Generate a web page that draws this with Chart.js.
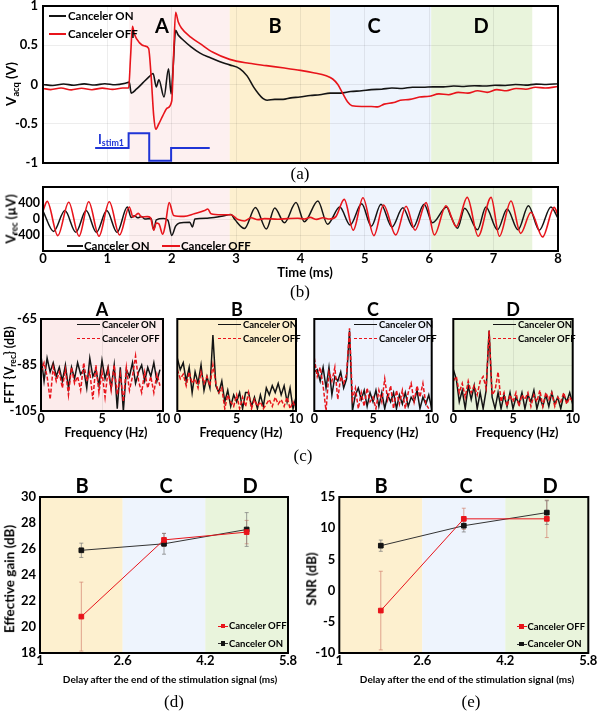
<!DOCTYPE html>
<html><head><meta charset="utf-8">
<script src="https://cdn.jsdelivr.net/npm/chart.js@4.4.0/dist/chart.umd.min.js"></script>
<style>
html,body{margin:0;padding:0;background:#fff;}
#root{position:relative;width:600px;height:711px;overflow:hidden;font-family:Lato,'Open Sans',sans-serif;}
canvas{position:absolute;}
.t{position:absolute;white-space:nowrap;transform:translate(-50%,-50%);font-weight:bold;color:#000;line-height:1;}
.l{position:absolute;white-space:nowrap;transform:translateY(-50%);font-weight:bold;color:#000;line-height:1;}
.cap{font-family:'Liberation Serif',serif;font-weight:normal;}
sub{font-size:68%;vertical-align:-0.28em;line-height:0;}
</style></head><body><div id="root"></div>
<script>
// ---------------- DATA ----------------
const msTicks = [0,1,2,3,4,5,6,7,8];
const regionNames = ['A','B','C','D'];
const regionStart = [1.34, 2.9, 4.46, 6.03];
const regionEnd   = [2.9, 4.46, 6.03, 7.6];

// (a) acquired voltage (V) vs time (ms)
const aYTicks = [-1,-0.5,0,0.5,1];
const aOnT = [0,0.15,0.32,0.48,0.64,0.8,0.96,1.12,1.28,1.34,1.37,1.45,1.55,1.65,1.71,1.76,1.80,1.88,1.95,1.99,2.02,2.06,2.10,2.16,2.30,2.44,2.60,2.75,2.90,3.06,3.17,3.27,3.35,3.42,3.48,3.6,3.73,3.85,3.99,4.15,4.3,4.46,4.62,4.78,4.95,5.1,5.26,5.42,5.58,5.74,5.9,6.06,6.22,6.38,6.54,6.7,6.86,7.02,7.18,7.34,7.5,7.66,7.82,8.0];
const aOnV = [0,-0.012,0.006,-0.01,0.008,-0.006,0.01,-0.004,0.015,0.03,-0.11,-0.06,0.02,0.1,0.14,-0.03,0.06,-0.16,0.2,-0.12,0.2,0.69,0.63,0.58,0.48,0.40,0.34,0.29,0.25,0.2,0.11,-0.03,-0.12,-0.18,-0.2,-0.19,-0.19,-0.17,-0.16,-0.14,-0.13,-0.11,-0.11,-0.09,-0.08,-0.065,-0.06,-0.045,-0.05,-0.035,-0.035,-0.03,-0.03,-0.02,-0.025,-0.015,-0.02,-0.01,-0.012,0,-0.008,0.005,0,0.01];
const aOffT = [0,0.12,0.28,0.44,0.6,0.76,0.92,1.08,1.24,1.33,1.36,1.39,1.42,1.5,1.58,1.64,1.68,1.72,1.75,1.80,1.86,1.93,2.00,2.03,2.06,2.10,2.15,2.30,2.44,2.64,2.9,3.2,3.47,3.75,4.0,4.2,4.4,4.5,4.58,4.66,4.73,4.8,4.95,5.1,5.2,5.3,5.45,5.55,5.7,5.85,6.0,6.15,6.3,6.45,6.6,6.75,6.9,7.05,7.2,7.35,7.5,7.65,7.8,8.0];
const aOffV = [-0.05,-0.065,-0.045,-0.068,-0.048,-0.066,-0.046,-0.062,-0.045,-0.045,0.35,0.74,0.64,0.53,0.49,0.46,0.1,-0.4,-0.57,-0.5,-0.4,-0.3,-0.21,0.4,0.92,0.8,0.72,0.6,0.52,0.41,0.32,0.27,0.24,0.21,0.18,0.15,0.11,0.07,0,-0.12,-0.22,-0.27,-0.28,-0.28,-0.285,-0.25,-0.23,-0.2,-0.19,-0.16,-0.15,-0.12,-0.13,-0.1,-0.11,-0.08,-0.1,-0.065,-0.08,-0.05,-0.06,-0.035,-0.045,-0.025];
const stimT = [0.81,1.33,1.33,1.65,1.65,1.99,1.99,2.59];
const stimV = [-0.81,-0.81,-0.62,-0.62,-0.97,-0.97,-0.81,-0.81];

// (b) recorded voltage (uV) vs time (ms)
const bYTicks = [-400,0,400];
const bOnT = [0,0.165,0.34,0.51,0.67,0.83,0.99,1.15,1.31,1.37,1.42,1.47,1.53,1.58,1.68,1.72,1.76,1.87,1.94,2.00,2.06,2.12,2.28,2.32,2.36,2.55,2.75,2.92,2.98,3.13,3.30,3.47,3.60,3.75,3.93,4.06,4.27,4.42,4.61,4.77,4.95,5.10,5.25,5.42,5.59,5.75,5.92,6.05,6.27,6.34,6.44,6.55,6.75,6.88,7.06,7.21,7.38,7.54,7.71,7.89,8.0];
const bOnV = [200,-310,210,-330,210,-335,210,-335,300,40,80,30,60,0,10,-270,-20,10,-30,-410,-180,-100,-80,-200,0,20,60,110,-15,-235,290,-250,275,-95,410,-70,450,-130,300,-150,380,-180,370,-200,280,-210,370,-95,300,50,-230,270,-270,300,-270,250,-270,330,-280,300,20];
const bOffT = [0,0.065,0.23,0.40,0.56,0.71,0.87,1.03,1.19,1.34,1.40,1.48,1.53,1.62,1.67,1.72,1.76,1.80,1.86,1.90,1.96,2.03,2.19,2.35,2.51,2.56,2.61,2.77,2.92,3.03,3.13,3.23,3.34,3.44,3.65,3.80,3.96,4.06,4.15,4.25,4.35,4.45,4.55,4.68,4.82,4.97,5.14,5.29,5.48,5.64,5.78,5.95,6.08,6.26,6.42,6.59,6.76,6.96,7.09,7.27,7.42,7.58,7.76,7.94,8.0];
const bOffV = [200,440,-415,420,-430,430,-430,430,-400,300,50,140,50,60,30,-280,-100,-120,-380,-150,410,90,65,130,210,250,130,105,105,-15,-50,30,-15,10,-5,10,20,0,40,-10,30,0,60,490,-280,530,-415,350,-400,320,-280,410,-400,330,-190,540,-430,540,-430,450,-360,170,-450,290,100];

// (c) FFT (dB) vs frequency (Hz)
const freqHz = [0,0.25,0.5,0.75,1,1.25,1.5,1.75,2,2.25,2.5,2.75,3,3.25,3.5,3.75,4,4.25,4.5,4.75,5,5.25,5.5,5.75,6,6.25,6.5,6.75,7,7.25,7.5,7.75,8,8.25,8.5,8.75,9,9.25,9.5,9.75,10];
const fftXTicks = [0,5,10];
const fftYTicks = [-105,-85,-65];
const fftOnA  = [-81,-92,-82,-88,-84,-90,-86,-92,-85,-95,-86,-91,-84,-89,-87,-95,-82,-90,-87,-94,-83,-91,-86,-95,-85,-104,-86,-105,-87,-90,-84,-93,-88,-85,-92,-86,-90,-84,-92,-87,null];
const fftOffA = [-88,-84,-90,-100,-86,-92,-88,-95,-87,-98,-86,-93,-90,-96,-84,-92,-88,-100,-85,-97,-88,-99,-87,-96,-85,-98,-89,-101,-86,-96,-90,-81,-92,-97,-88,-95,-90,-97,-89,-94,null];
const fftOnB  = [-82,-87,-84,-92,-86,-97,-88,-93,-85,-96,-90,-95,-72,-94,-97,-92,-101,-96,-103,-98,-101,-97,-104,-97,-97,-103,-99,-104,-98,-103,-95,-98,-94,-97,-93,-98,-94,-101,-95,-104,-99];
const fftOffB = [-87,-91,-89,-94,-88,-93,-91,-95,-88,-93,-90,-94,-85,-93,-97,-95,-104,-98,-101,-103,-98,-104,-99,-103,-97,-104,-100,-103,-101,-104,-102,-100,-103,-99,-102,-100,-103,-99,-104,-101,-104];
const fftOnC  = [-88,-87,-92,-86,-95,-86,-98,-90,-92,-88,-95,-91,-70,-105,-98,-95,-100,-96,-103,-97,-101,-96,-103,-97,-104,-98,-101,-97,-104,-98,-102,-97,-103,-99,-101,-96,-104,-99,-102,-98,-104];
const fftOffC = [-82,-90,-86,-94,-105,-88,-92,-86,-100,-90,-93,-89,-69,-100,-95,-104,-97,-103,-95,-101,-99,-104,-96,-101,-91,-100,-94,-104,-96,-102,-96,-104,-97,-93,-101,-94,-99,-93,-102,-104,null];
const fftOnD  = [-87,-91,-101,-96,-104,-94,-100,-94,-104,-97,-104,-96,-70,-99,-104,-97,-104,-98,-103,-97,-104,-99,-102,-97,-104,-98,-101,-96,-104,-99,-103,-98,-103,-97,-102,-99,-104,-98,-101,-97,-102];
const fftOffD = [-92,-90,-97,-93,-99,-92,-97,-94,-98,-92,-90,-95,-70,-98,-96,-88,-101,-97,-103,-98,-101,-97,-103,-98,-100,-97,-103,-98,-101,-96,-103,-97,-100,-97,-103,-99,-101,-97,-102,-99,-101];

// (d),(e) vs delay after the end of the stimulation (ms)
const delayTicks = [1,2.6,4.2,5.8];
const delayRegionNames = ['B','C','D'];
const delayRegionStart = [1,2.6,4.2];
const delayRegionEnd = [2.6,4.2,5.8];
const delayMs = [1.8,3.4,5.0];
const gainTicks = [18,20,22,24,26,28,30];
const gainOff = [20.8,26.7,27.3];
const gainOffErr = [2.65,0.5,0.9];
const gainOn = [25.9,26.4,27.5];
const gainOnErr = [0.55,0.8,1.3];
const snrTicks = [-10,-5,0,5,10,15];
const snrOff = [-3.2,11.5,11.5];
const snrOffErr = [6.3,1.7,3.0];
const snrOn = [7.2,10.4,12.5];
const snrOnErr = [0.9,1.0,1.9];

// ---------------- STYLE ----------------
const RED = '#e8141b', BLACK = '#141414', BLUE = '#1f35d6';
const REG = ['#fdf0f0','#fdf0cf','#eef4fd','#e9f4dc'];
const REGC = ['#fcebeb','#fdefcc','#edf3fd','#e8f3da'];
const GRID = 'rgba(0,0,0,0.07)';
const FONT = "Lato, 'Open Sans', sans-serif";
Chart.defaults.font.family = FONT;
Chart.defaults.color = '#000';

const root = document.getElementById('root');
function makeCanvas(x,y,w,h){const c=document.createElement('canvas');c.width=w;c.height=h;c.style.left=x+'px';c.style.top=y+'px';c.style.width=w+'px';c.style.height=h+'px';root.appendChild(c);return c;}
function text(html,x,y,size,o={}){const d=document.createElement('div');d.className=o.left?'l':'t';if(o.cls)d.classList.add(o.cls);d.innerHTML=html;d.style.left=x+'px';d.style.top=y+'px';d.style.fontSize=size+'px';if(o.color)d.style.color=o.color;if(o.rot)d.style.transform='translate(-50%,-50%) rotate(-90deg)';root.appendChild(d);return d;}
function hline(x1,x2,y,color,w,dash){const d=document.createElement('div');d.style.position='absolute';d.style.left=x1+'px';d.style.top=(y-w/2)+'px';d.style.width=(x2-x1)+'px';d.style.height='0';d.style.borderTop=w+'px '+(dash?'dashed':'solid')+' '+color;root.appendChild(d);}
function square(x,y,s,color){const d=document.createElement('div');d.style.position='absolute';d.style.left=(x-s/2)+'px';d.style.top=(y-s/2)+'px';d.style.width=s+'px';d.style.height=s+'px';d.style.background=color;root.appendChild(d);}
const zip=(xs,ys)=>xs.map((x,i)=>({x:x,y:ys[i]}));
const fixed=(size,isX)=>s=>{if(isX)s.height=size;else s.width=size;s.paddingLeft=0;s.paddingRight=0;s.paddingTop=0;s.paddingBottom=0;};
const setTicks=arr=>s=>{s.ticks=arr.map(v=>({value:v}));};

const framePlugin={id:'frame',afterDraw(chart){const a=chart.chartArea,ctx=chart.ctx;ctx.save();ctx.strokeStyle='#000';ctx.lineWidth=2;ctx.strokeRect(a.left,a.top,a.right-a.left,a.bottom-a.top);ctx.restore();}};
const bandsPlugin={id:'bands',beforeDraw(chart,args,o){if(!o||!o.starts)return;const a=chart.chartArea,ctx=chart.ctx,xs=chart.scales.x;ctx.save();o.starts.forEach((s,i)=>{const x1=Math.max(a.left,xs.getPixelForValue(s)),x2=Math.min(a.right,xs.getPixelForValue(o.ends[i]));ctx.fillStyle=o.colors[i];ctx.fillRect(x1,a.top,x2-x1,a.bottom-a.top);});ctx.restore();}};
const errPlugin={id:'errbars',beforeDatasetsDraw(chart){const ctx=chart.ctx,xs=chart.scales.x,ys=chart.scales.y;chart.data.datasets.forEach(ds=>{if(!ds.err)return;ctx.save();ctx.strokeStyle=ds.errColor;ctx.lineWidth=1;ds.data.forEach((p,i)=>{const x=xs.getPixelForValue(p.x),y1=ys.getPixelForValue(p.y+ds.err[i]),y2=ys.getPixelForValue(p.y-ds.err[i]);ctx.beginPath();ctx.moveTo(x,y1);ctx.lineTo(x,y2);ctx.moveTo(x-2,y1);ctx.lineTo(x+2,y1);ctx.moveTo(x-2,y2);ctx.lineTo(x+2,y2);ctx.stroke();});ctx.restore();});}};

const baseOpts=(pad)=>({responsive:false,animation:false,devicePixelRatio:1,events:[],layout:{padding:pad},plugins:{legend:{display:false},tooltip:{enabled:false}}});
const tickFont=(size)=>({size:size,weight:'bold',family:FONT});

// ---------------- (a) ----------------
(function(){
  const o=baseOpts({left:0,right:42,top:6,bottom:5});
  o.plugins.bands={starts:regionStart,ends:regionEnd,colors:REG};
  o.scales={
    x:{type:'linear',min:0,max:8,afterBuildTicks:setTicks(msTicks),ticks:{display:false},grid:{color:GRID,drawTicks:false},border:{display:false},afterFit:fixed(0,true)},
    y:{type:'linear',min:-1,max:1,afterBuildTicks:setTicks(aYTicks),ticks:{font:tickFont(13),padding:5,callback:v=>String(v)},grid:{color:GRID,drawTicks:false},border:{display:false},afterFit:fixed(43,false)}
  };
  new Chart(makeCanvas(0,0,600,168),{type:'line',data:{datasets:[
    {data:zip(stimT,stimV),borderColor:BLUE,borderWidth:2,pointRadius:0,tension:0},
    {data:zip(aOffT,aOffV),borderColor:RED,borderWidth:1.6,pointRadius:0,cubicInterpolationMode:'monotone'},
    {data:zip(aOnT,aOnV),borderColor:BLACK,borderWidth:1.6,pointRadius:0,cubicInterpolationMode:'monotone'}
  ]},options:o,plugins:[bandsPlugin,framePlugin]});
  const lx=[162,275,374,481];
  regionNames.forEach((n,i)=>text(n,lx[i],25,20));
  hline(49,66,16,BLACK,2);text('Canceler ON',68,16,11.5,{left:1});
  hline(49,66,34,RED,2);text('Canceler OFF',68,34,11.5,{left:1});
  text('I<sub>stim1</sub>',98,139,13,{left:1,color:BLUE});
  text('V<sub>acq</sub> (V)',12,84,13.5,{rot:1});
  text('(a)',300,173,17,{cls:'cap'});
})();

// ---------------- (b) ----------------
(function(){
  const o=baseOpts({left:0,right:42,top:5,bottom:0});
  o.plugins.bands={starts:regionStart,ends:regionEnd,colors:REG};
  o.scales={
    x:{type:'linear',min:0,max:8,afterBuildTicks:setTicks(msTicks),ticks:{font:tickFont(13),padding:0,callback:v=>String(v)},grid:{color:GRID,drawTicks:false},border:{display:false},afterFit:fixed(21,true)},
    y:{type:'linear',min:-800,max:800,afterBuildTicks:setTicks(bYTicks),ticks:{font:tickFont(12.5),padding:3,callback:v=>String(v)},grid:{color:GRID,drawTicks:false},border:{display:false},afterFit:fixed(43,false)}
  };
  new Chart(makeCanvas(0,182,600,90),{type:'line',data:{datasets:[
    {data:zip(bOffT,bOffV),borderColor:RED,borderWidth:1.6,pointRadius:0,cubicInterpolationMode:'monotone'},
    {data:zip(bOnT,bOnV),borderColor:BLACK,borderWidth:1.5,pointRadius:0,cubicInterpolationMode:'monotone'}
  ]},options:o,plugins:[bandsPlugin,framePlugin]});
  hline(67,83,246,BLACK,2);text('Canceler ON',84,246,11.5,{left:1});
  hline(162,180,246,RED,2);text('Canceler OFF',181,246,11.5,{left:1});
  text('V<sub>rec</sub> (µV)',11,219,13,{rot:1});
  text('Time (ms)',305,272,13);
  text('(b)',300,291,17,{cls:'cap'});
})();

// ---------------- (c) ----------------
function fftChart(cx,yW,padR,showY,on,off,bg,name,titleX,legX){
  const o=baseOpts({left:0,right:padR,top:7,bottom:0});
  o.plugins.bands={starts:[0],ends:[10],colors:[bg]};
  o.scales={
    x:{type:'linear',min:0,max:10,afterBuildTicks:setTicks(fftXTicks),ticks:{font:tickFont(12.5),padding:0,callback:v=>String(v)},grid:{color:GRID,drawTicks:false},border:{display:false},afterFit:fixed(19,true)},
    y:{type:'linear',min:-105,max:-65,afterBuildTicks:setTicks(fftYTicks),ticks:{display:showY,font:tickFont(13),padding:4,callback:v=>String(v)},grid:{color:GRID,drawTicks:false},border:{display:false},afterFit:fixed(yW,false)}
  };
  const c=makeCanvas(cx,312,cx===0?170:140,118);
  new Chart(c,{type:'line',data:{datasets:[
    {data:zip(freqHz,off),borderColor:RED,borderWidth:1.5,borderDash:[4,2],pointRadius:0,tension:0},
    {data:zip(freqHz,on),borderColor:BLACK,borderWidth:1.5,pointRadius:0,tension:0}
  ]},options:o,plugins:[bandsPlugin,framePlugin]});
  text(name,titleX,309,18);
  text('Frequency (Hz)',titleX+4,433,12.5);
  hline(legX,legX+23,325,BLACK,1.5);text('Canceler ON',legX+25,325,9.5,{left:1});
  hline(legX,legX+23,339,RED,1.5,true);text('Canceler OFF',legX+25,339,9.5,{left:1});
}
fftChart(0,41,7,true,fftOnA,fftOffA,REGC[0],'A',102,77);
fftChart(165,12.3,9,false,fftOnB,fftOffB,REGC[1],'B',237,218);
fftChart(302,12.3,10.3,false,fftOnC,fftOffC,REGC[2],'C',373,354);
fftChart(441,12.3,8.3,false,fftOnD,fftOffD,REGC[3],'D',513,493);
text('FFT {V<sub>rec</sub>} (dB)',10,365,12.5,{rot:1});
text('(c)',303,455,17,{cls:'cap'});

// ---------------- (d),(e) ----------------
function delayChart(cx,yW,padR,yMin,yMax,yTicks,off,offErr,on,onErr,lblX,legX,legY,yTitle,yTitleX,cap,capX){
  const o=baseOpts({left:0,right:padR,top:7,bottom:0});
  o.plugins.bands={starts:delayRegionStart,ends:delayRegionEnd,colors:REG.slice(1)};
  o.scales={
    x:{type:'linear',min:1,max:5.8,afterBuildTicks:setTicks(delayTicks),ticks:{font:tickFont(13),padding:0,callback:v=>String(v)},grid:{display:false,drawTicks:false},border:{display:false},afterFit:fixed(22,true)},
    y:{type:'linear',min:yMin,max:yMax,afterBuildTicks:setTicks(yTicks),ticks:{font:tickFont(13),padding:4,callback:v=>String(v)},grid:{display:false,drawTicks:false},border:{display:false},afterFit:fixed(yW,false)}
  };
  new Chart(makeCanvas(cx,490,300,185),{type:'line',data:{datasets:[
    {data:zip(delayMs,off),err:offErr,errColor:'rgba(210,130,110,0.7)',borderColor:RED,borderWidth:1,pointStyle:'rect',pointRadius:3.3,pointBackgroundColor:RED,pointBorderColor:RED,tension:0},
    {data:zip(delayMs,on),err:onErr,errColor:'rgba(120,120,120,0.7)',borderColor:'#333',borderWidth:1,pointStyle:'rect',pointRadius:3.3,pointBackgroundColor:BLACK,pointBorderColor:BLACK,tension:0}
  ]},options:o,plugins:[bandsPlugin,errPlugin,framePlugin]});
  delayRegionNames.forEach((n,i)=>text(n,lblX[i],485,20));
  hline(legX,legX+10,legY,RED,1);square(legX+5,legY,4.5,RED);text('Canceler OFF',legX+11,legY,9.5,{left:1});
  hline(legX,legX+10,legY+17.5,'#333',1);square(legX+5,legY+17.5,4.5,BLACK);text('Canceler ON',legX+11,legY+17.5,9.5,{left:1});
  text(yTitle,yTitleX,579,13.5,{rot:1});
  text('Delay after the end of the stimulation signal (ms)',capX,679,10);
  text(cap,capX+4,701,17,{cls:'cap'});
}
delayChart(0,40,12,18,30,gainTicks,gainOff,gainOffErr,gainOn,gainOnErr,[82,166,250],218,626,'Effective gain (dB)',10,'(d)',170);
delayChart(300,39.3,11.7,-10,15,snrTicks,snrOff,snrOffErr,snrOn,snrOnErr,[381,466,550],516.5,626.5,'SNR (dB)',312,'(e)',467);
</script></body></html>
